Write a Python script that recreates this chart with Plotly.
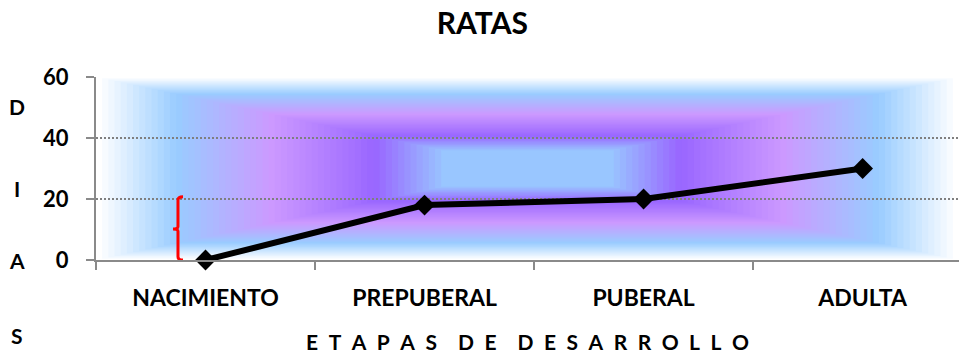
import plotly.graph_objects as go

# Developmental stages and their values
etapas = ["NACIMIENTO", "PREPUBERAL", "PUBERAL", "ADULTA"]
dias = [0, 18, 20, 30]
y_ticks = [0, 20, 40, 60]
titulo = "RATAS"
titulo_x = "\u2002".join("ETAPAS") + "\u2002\u2002" + "\u2002".join("DE") + \
    "\u2002\u2002" + "\u2002".join("DESARROLLO")
titulo_y = ["D", "I", "A", "S"]

FONT = "Lato"

fig = go.Figure()

fig.add_trace(go.Scatter(
    x=etapas, y=dias,
    mode="lines+markers",
    line=dict(color="black", width=6),
    marker=dict(symbol="diamond", size=16, color="black"),
    cliponaxis=False,
    showlegend=False,
))


# Rectangular "from centre" gradient filling the plot area
def hex_rgb(h):
    h = h.lstrip("#")
    return tuple(int(h[i:i + 2], 16) for i in (0, 2, 4))


stops = [
    (0.00, "#99CCFF"),
    (0.19, "#99CCFF"),
    (0.36, "#9966FF"),
    (0.60, "#CC99FF"),
    (0.82, "#99CCFF"),
    (1.00, "#FFFFFF"),
]


def color_at(t):
    for (t0, c0), (t1, c1) in zip(stops[:-1], stops[1:]):
        if t <= t1:
            f = 0 if t1 == t0 else (t - t0) / (t1 - t0)
            a, b = hex_rgb(c0), hex_rgb(c1)
            r, g, bl = (round(a[k] + (b[k] - a[k]) * f) for k in range(3))
            return f"rgb({r},{g},{bl})"
    return stops[-1][1]


shapes = []
n_bands = 70
for i in range(n_bands + 1):
    t = 1 - i / n_bands
    if t < 0.19:
        break
    shapes.append(dict(
        type="rect", xref="x domain", yref="y domain",
        x0=0.5 - 0.5 * t, x1=0.5 + 0.5 * t,
        y0=0.5 - 0.5 * t, y1=0.5 + 0.5 * t,
        fillcolor=color_at(t), line=dict(width=0), layer="below",
    ))

# Red brace next to the first stage
bx, bh, bn = 0.095, 0.1008, 0.0892
brace = (f"M {bh},20.7 Q {bx},20.7 {bx},19.6 L {bx},11 "
         f"Q {bx},10.2 {bn},10.2 Q {bx},10.2 {bx},9.4 L {bx},1.1 "
         f"Q {bx},0 {bh},0")
shapes.append(dict(type="path", xref="paper", yref="y", path=brace,
                   line=dict(color="#FF0000", width=3)))

# Vertically spread letters of the y-axis title
letter_y = [0.8415, 0.393, 0.0, -0.415]
annotations = [
    dict(text=ch, xref="paper", yref="paper", x=-0.092, y=yy,
         xanchor="center", yanchor="middle", showarrow=False,
         font=dict(family=FONT, size=21, color="black", weight="bold"))
    for ch, yy in zip(titulo_y, letter_y)
]

fig.update_layout(
    width=959, height=354,
    margin=dict(l=96, r=0, t=77, b=94),
    paper_bgcolor="white", plot_bgcolor="white",
    title=dict(text=titulo, x=0.503, xanchor="center", y=0.935, yanchor="middle",
               font=dict(family=FONT, size=30, color="black", weight="bold")),
    shapes=shapes,
    annotations=annotations,
    xaxis=dict(
        type="category", range=[-0.5, 3.44], tickson="boundaries",
        ticks="outside", ticklen=8, tickcolor="#8a8a8a", tickwidth=2,
        showline=True, linecolor="#8a8a8a", linewidth=2,
        showgrid=False, zeroline=False, ticklabelstandoff=16,
        tickfont=dict(family=FONT, size=23, color="black", weight="bold"),
        title=dict(text=titulo_x, standoff=27,
                   font=dict(family=FONT, size=21, color="black", weight="bold")),
    ),
    yaxis=dict(
        range=[0, 60], tickvals=y_ticks,
        ticks="outside", ticklen=8, tickcolor="#8a8a8a", tickwidth=2,
        showline=True, linecolor="#8a8a8a", linewidth=2,
        showgrid=True, gridcolor="#7f7f7f", griddash="2px,2px", gridwidth=1.5,
        zeroline=False, ticklabelstandoff=13,
        tickfont=dict(family=FONT, size=22, color="black", weight="bold"),
    ),
)

fig.write_html("out.html")
